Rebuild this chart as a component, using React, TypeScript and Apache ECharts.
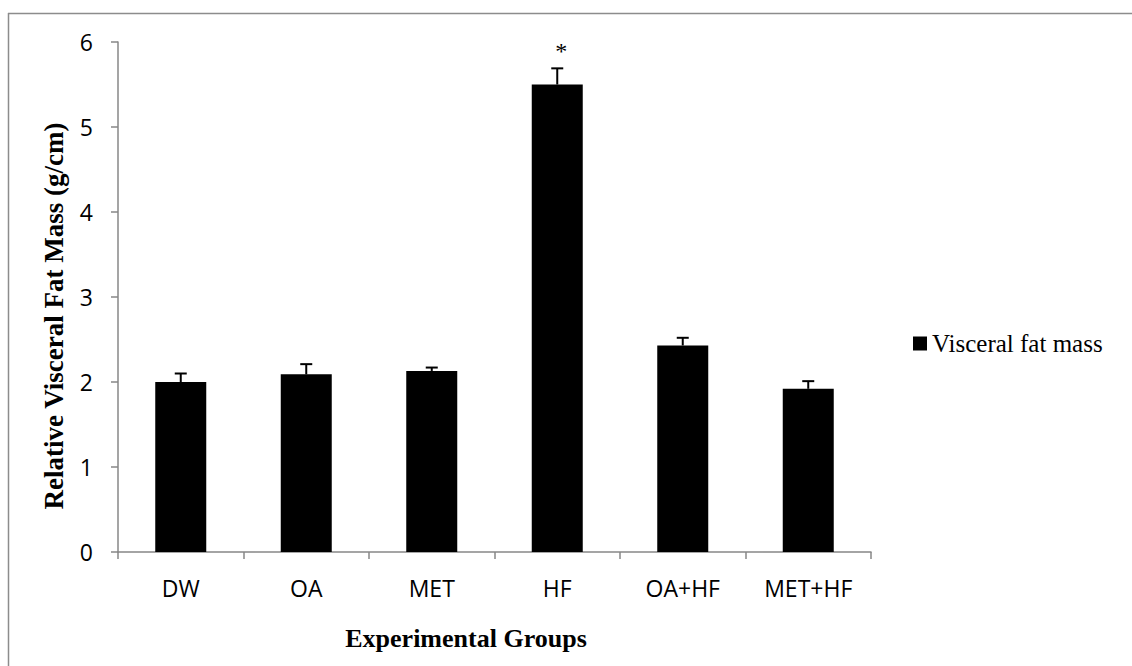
import React, { useEffect, useRef } from "react";
import * as echarts from "echarts";

const categories = ["DW", "OA", "MET", "HF", "OA+HF", "MET+HF"];
const fatMass = [2.0, 2.09, 2.13, 5.5, 2.43, 1.92];
const fatMassError = [0.1, 0.12, 0.04, 0.19, 0.09, 0.09];
const significance = ["", "", "", "*", "", ""];
const yTicks = [0, 1, 2, 3, 4, 5, 6];
const seriesName = "Visceral fat mass";
const yTitle = "Relative Visceral Fat Mass (g/cm)";
const xTitle = "Experimental Groups";

export default function App() {
  const ref = useRef<HTMLDivElement>(null);

  useEffect(() => {
    if (!ref.current) return;
    const chart = echarts.init(ref.current, null, { renderer: "svg" });
    const axisGray = "#878787";
    const errData = fatMass.map((v, i) => [i, v, v + fatMassError[i]]);
    chart.setOption({
      animation: false,
      backgroundColor: "#ffffff",
      grid: { left: 118, top: 42, right: 261, bottom: 114, containLabel: false },
      legend: {
        data: [seriesName],
        left: 908,
        top: 326,
        icon: "rect",
        itemWidth: 14,
        itemHeight: 14,
        textStyle: {
          fontFamily: "'Liberation Serif', 'Times New Roman', serif",
          fontSize: 25,
          color: "#000",
        },
      },
      xAxis: {
        type: "category",
        data: categories,
        axisLine: { lineStyle: { color: axisGray, width: 1.5 } },
        axisTick: { show: true, length: 7, lineStyle: { color: axisGray, width: 1.5 } },
        axisLabel: {
          margin: 24,
          fontFamily: "'Open Sans', sans-serif",
          fontSize: 23,
          color: "#000",
        },
      },
      yAxis: {
        type: "value",
        min: yTicks[0],
        max: yTicks[yTicks.length - 1],
        interval: 1,
        splitLine: { show: false },
        axisLine: { show: true, lineStyle: { color: axisGray, width: 1.5 } },
        axisTick: { show: true, length: 7, lineStyle: { color: axisGray, width: 1.5 } },
        axisLabel: {
          margin: 25,
          fontFamily: "'Open Sans', sans-serif",
          fontSize: 23,
          color: "#000",
        },
      },
      series: [
        {
          name: seriesName,
          type: "bar",
          barWidth: 51,
          data: fatMass,
          itemStyle: { color: "#000" },
          label: {
            show: true,
            position: "top",
            distance: 22,
            offset: [4, 0],
            formatter: (p: any) => significance[p.dataIndex],
            fontFamily: "'Liberation Serif', 'Times New Roman', serif",
            fontSize: 24,
            color: "#000",
          },
          z: 2,
        },
        {
          name: "error",
          type: "custom",
          data: errData,
          z: 3,
          renderItem: (params: any, api: any) => {
            const idx = api.value(0);
            const top = api.coord([idx, api.value(1)]);
            const high = api.coord([idx, api.value(2)]);
            const half = 6;
            const style = { stroke: "#000", lineWidth: 2 };
            return {
              type: "group",
              children: [
                { type: "line", shape: { x1: top[0], y1: top[1], x2: high[0], y2: high[1] }, style },
                { type: "line", shape: { x1: high[0] - half, y1: high[1], x2: high[0] + half, y2: high[1] }, style },
              ],
            };
          },
        },
      ],
      graphic: [
        { type: "line", shape: { x1: 8.5, y1: 13, x2: 8.5, y2: 666 }, style: { stroke: "#8c8c8c", lineWidth: 1.5 } },
        { type: "line", shape: { x1: 8, y1: 13.5, x2: 1132, y2: 13.5 }, style: { stroke: "#8c8c8c", lineWidth: 1.5 } },
        {
          type: "text",
          x: 54,
          y: 316,
          rotation: Math.PI / 2,
          style: {
            text: yTitle,
            fontFamily: "'Liberation Serif', 'Times New Roman', serif",
            fontWeight: "bold",
            fontSize: 27,
            fill: "#000",
            align: "center",
            verticalAlign: "middle",
          },
        },
        {
          type: "text",
          x: 466,
          y: 638,
          style: {
            text: xTitle,
            fontFamily: "'Liberation Serif', 'Times New Roman', serif",
            fontWeight: "bold",
            fontSize: 26,
            fill: "#000",
            align: "center",
            verticalAlign: "middle",
          },
        },
      ],
    });
    return () => chart.dispose();
  }, []);

  return (
    <div
      ref={ref}
      style={{ position: "fixed", left: 0, top: 0, width: 1132, height: 666, background: "#fff" }}
    />
  );
}
